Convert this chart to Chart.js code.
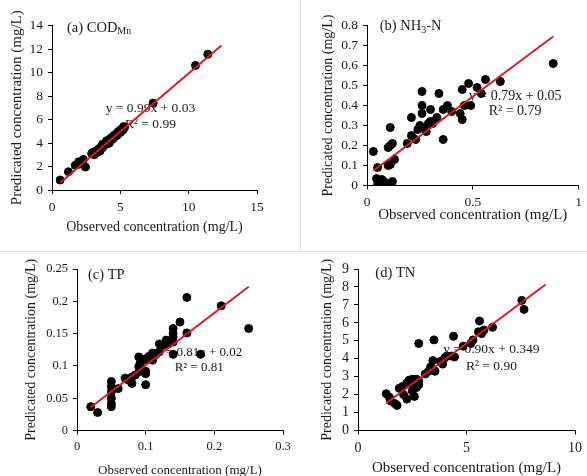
<!DOCTYPE html>
<html>
<head>
<meta charset="utf-8">
<script src="https://cdn.jsdelivr.net/npm/chart.js@4.4.0/dist/chart.umd.min.js"></script>
<style>
  body { margin: 0; background: #fff; width: 587px; height: 476px; position: relative; overflow: hidden; }
  canvas { position: absolute; }
  .sep { position: absolute; background: #e4e4e4; }
</style>
</head>
<body>
<div class="sep" style="left:0;top:251px;width:587px;height:1px"></div>
<div class="sep" style="left:300px;top:0;width:1px;height:251px"></div>
<canvas id="chartA" width="300" height="250" style="left:0;top:0"></canvas>
<canvas id="chartB" width="287" height="250" style="left:300px;top:0"></canvas>
<canvas id="chartC" width="300" height="224" style="left:0;top:252px"></canvas>
<canvas id="chartD" width="287" height="224" style="left:300px;top:252px"></canvas>
<script>
// (a) COD_Mn
const codObs  = [0.6, 1.2, 1.7, 1.95, 2.3, 2.45, 2.0, 2.2, 2.9, 3.0, 3.1, 3.2, 3.3, 3.4, 3.5, 3.6, 3.7, 3.7, 3.8, 3.9, 4.0, 4.0, 4.1, 4.2, 4.2, 4.3, 4.4, 4.5, 4.5, 4.6, 4.7, 4.8, 4.8, 4.9, 5.0, 5.0, 5.1, 5.2, 5.25, 5.3, 7.4, 10.5, 11.4];
const codPred = [0.85, 1.55, 2.1, 2.4, 2.6, 1.95, 2.2, 2.35, 3.1, 3.2, 3.0, 3.3, 3.2, 3.5, 3.3, 3.7, 3.6, 3.9, 3.8, 4.0, 3.9, 4.2, 4.1, 4.0, 4.3, 4.4, 4.3, 4.6, 4.4, 4.7, 4.6, 4.9, 4.7, 5.0, 4.9, 5.1, 5.2, 5.1, 5.4, 5.3, 7.4, 10.6, 11.55];
// (b) NH3-N
const nh3Obs  = [0.03, 0.05, 0.045, 0.07, 0.08, 0.05, 0.1, 0.12, 0.11, 0.10, 0.11, 0.12, 0.10, 0.11, 0.13, 0.21, 0.19, 0.21, 0.23, 0.24, 0.25, 0.27, 0.28, 0.29, 0.30, 0.31, 0.33, 0.26, 0.34, 0.26, 0.26, 0.30, 0.36, 0.36, 0.38, 0.40, 0.44, 0.45, 0.46, 0.45, 0.48, 0.49, 0.52, 0.54, 0.56, 0.63, 0.88];
const nh3Pred = [0.17, 0.09, 0.035, 0.03, 0.02, 0.005, 0.005, 0.02, 0.29, 0.19, 0.20, 0.21, 0.10, 0.105, 0.13, 0.34, 0.21, 0.25, 0.23, 0.28, 0.30, 0.285, 0.27, 0.31, 0.32, 0.31, 0.34, 0.47, 0.46, 0.40, 0.36, 0.38, 0.23, 0.38, 0.40, 0.37, 0.36, 0.33, 0.40, 0.48, 0.51, 0.40, 0.49, 0.46, 0.53, 0.52, 0.61];
// (c) TP
const tpObs  = [0.02, 0.03, 0.05, 0.05, 0.05, 0.05, 0.05, 0.05, 0.06, 0.07, 0.075, 0.08, 0.08, 0.085, 0.09, 0.09, 0.09, 0.092, 0.097, 0.10, 0.10, 0.10, 0.10, 0.105, 0.11, 0.11, 0.115, 0.12, 0.12, 0.125, 0.13, 0.133, 0.14, 0.14, 0.14, 0.14, 0.14, 0.15, 0.16, 0.16, 0.18, 0.21, 0.25];
const tpPred = [0.037, 0.028, 0.076, 0.068, 0.06, 0.05, 0.042, 0.037, 0.065, 0.081, 0.078, 0.073, 0.083, 0.086, 0.091, 0.114, 0.099, 0.104, 0.109, 0.111, 0.071, 0.088, 0.092, 0.115, 0.109, 0.12, 0.119, 0.122, 0.134, 0.132, 0.14, 0.134, 0.158, 0.15, 0.145, 0.137, 0.118, 0.168, 0.206, 0.151, 0.118, 0.193, 0.158];
// (d) TN
const tnObs  = [1.3, 1.45, 1.5, 1.7, 1.8, 1.9, 2.05, 2.1, 2.25, 2.25, 2.35, 2.5, 2.5, 2.55, 2.6, 2.7, 2.7, 2.8, 2.8, 2.8, 3.1, 3.25, 3.35, 3.45, 3.55, 3.5, 3.8, 3.9, 4.0, 4.1, 4.3, 4.4, 4.45, 4.85, 5.2, 5.3, 5.55, 5.6, 5.7, 5.8, 6.2, 7.55, 7.65];
const tnPred = [2.05, 1.85, 1.65, 1.5, 1.4, 2.35, 2.45, 2.0, 2.65, 1.75, 2.8, 2.85, 2.2, 2.45, 1.9, 2.85, 2.4, 2.75, 2.55, 4.85, 3.15, 3.3, 3.55, 3.9, 3.3, 5.05, 3.85, 3.7, 4.05, 4.15, 4.15, 5.25, 4.1, 4.7, 4.85, 5.05, 5.5, 6.1, 5.4, 5.6, 5.75, 7.25, 6.75];

// fitted lines: slope, intercept, x range
const slopes     = [0.99, 0.79, 0.81, 0.90];
const intercepts = [0.03, 0.05, 0.02, 0.349];
const fitStart   = [0.6, 0.03, 0.02, 1.3];
const fitEnd     = [12.4, 0.88, 0.25, 8.65];
const r2Values   = ["0.99", "0.79", "0.81", "0.90"];
const eqTexts    = ["y = 0.99x + 0.03", "y = 0.79x + 0.05", "y = 0.81x + 0.02", "y = 0.90x + 0.349"];

// axis ticks
const xTicksA = [0, 5, 10, 15];          const yTicksA = [0, 2, 4, 6, 8, 10, 12, 14];
const xTicksB = [0, 0.5, 1];             const yTicksB = [0, 0.1, 0.2, 0.3, 0.4, 0.5, 0.6, 0.7, 0.8];
const xTicksC = [0, 0.1, 0.2, 0.3];      const yTicksC = [0, 0.05, 0.1, 0.15, 0.2, 0.25];
const xTicksD = [0, 5, 10];              const yTicksD = [0, 1, 2, 3, 4, 5, 6, 7, 8, 9];

const serif = "'Liberation Serif', 'Times New Roman', serif";
const txt = "#1a1a1a";

const panelText = {
  id: "panelText",
  beforeDatasetsDraw(chart, args, o) {
    const { ctx, scales: { x, y } } = chart;
    ctx.save();
    ctx.fillStyle = txt;
    ctx.textBaseline = "middle";
    // panel label with subscript parts
    let px = x.getPixelForValue(o.labelAt[0]);
    const py = y.getPixelForValue(o.labelAt[1]);
    ctx.textAlign = "left";
    o.label.forEach(part => {
      ctx.font = (part.sub ? 10 : 14.5) + "px " + serif;
      ctx.fillText(part.t, px, part.sub ? py + 4 : py);
      px += ctx.measureText(part.t).width;
    });
    // equation and R²
    ctx.font = o.eqSize + "px " + serif;
    ctx.textAlign = "center";
    const ex = x.getPixelForValue(o.eqAt[0]);
    ctx.fillText(o.eq, ex, y.getPixelForValue(o.eqAt[1]));
    ctx.fillText("R² = " + o.r2, ex, y.getPixelForValue(o.eqAt[2]));
    ctx.restore();
  }
};

function makePanel(id, p) {
  const canvas = document.getElementById(id);
  const W = canvas.width, H = canvas.height;
  const pts = p.obs.map((v, i) => ({ x: v, y: p.pred[i] }));
  const i = p.fit;
  const fit = [fitStart[i], fitEnd[i]].map(v => ({ x: v, y: slopes[i] * v + intercepts[i] }));
  const axisCommon = {
    type: "linear",
    border: { color: "#000", width: 1 },
    grid: { drawOnChartArea: false, color: "#000", tickLength: 4 },
  };
  return new Chart(canvas.getContext("2d"), {
    type: "scatter",
    data: {
      datasets: [
        { data: fit, showLine: true, borderColor: "#e3161b", borderWidth: 2, pointRadius: 0 },
        { data: pts, backgroundColor: "#000", borderColor: "#000", pointRadius: 4, pointHoverRadius: 4 },
      ],
    },
    options: {
      responsive: false,
      animation: false,
      layout: { padding: { left: 0, bottom: 0, top: p.area[1], right: W - p.area[2] } },
      plugins: {
        legend: { display: false },
        tooltip: { enabled: false },
        panelText: { label: p.label, labelAt: p.labelAt, eq: eqTexts[i], r2: r2Values[i], eqAt: p.eqAt, eqSize: p.eqSize },
      },
      scales: {
        x: {
          ...axisCommon,
          min: p.xTicks[0], max: p.xTicks[p.xTicks.length - 1],
          afterBuildTicks: s => { s.ticks = p.xTicks.map(v => ({ value: v })); },
          afterFit: s => { s.height = H - p.area[3]; },
          ticks: { color: txt, font: { family: serif, size: p.tickSize }, padding: 5, maxRotation: 0, autoSkip: false, callback: v => String(v) },
          title: { display: true, text: "Observed concentration (mg/L)", color: txt,
                   font: { family: serif, size: p.xTitleSize }, padding: { top: 0, bottom: H - p.xTitleY - p.xTitleSize * 0.6 } },
        },
        y: {
          ...axisCommon,
          min: p.yTicks[0], max: p.yTicks[p.yTicks.length - 1],
          afterBuildTicks: s => { s.ticks = p.yTicks.map(v => ({ value: v })); },
          afterFit: s => { s.width = p.area[0]; },
          ticks: { color: txt, font: { family: serif, size: p.tickSize }, padding: 5, autoSkip: false, callback: v => String(v) },
          title: { display: true, text: "Predicated concentration (mg/L)", color: txt,
                   font: { family: serif, size: p.yTitleSize }, padding: { top: p.yTitleX - p.yTitleSize * 0.6, bottom: 0 } },
        },
      },
    },
    plugins: [panelText],
  });
}

makePanel("chartA", {
  obs: codObs, pred: codPred, fit: 0, xTicks: xTicksA, yTicks: yTicksA,
  area: [52, 25.5, 257, 190], xTitleY: 227, yTitleX: 17,
  tickSize: 13.5, xTitleSize: 14, yTitleSize: 15, eqSize: 13.5,
  label: [{ t: "(a) COD" }, { t: "Mn", sub: true }], labelAt: [1.1, 13.8], eqAt: [7.2, 6.95, 5.55],
});
makePanel("chartB", {
  obs: nh3Obs, pred: nh3Pred, fit: 1, xTicks: xTicksB, yTicks: yTicksB,
  area: [67, 25.5, 280, 185.5], xTitleY: 215, yTitleX: 28,
  tickSize: 13.5, xTitleSize: 15, yTitleSize: 14, eqSize: 14,
  label: [{ t: "(b) NH" }, { t: "3", sub: true }, { t: "-N" }], labelAt: [0.06, 0.795], eqAt: [0.7, 0.445, 0.37],
});
makePanel("chartC", {
  obs: tpObs, pred: tpPred, fit: 2, xTicks: xTicksC, yTicks: yTicksC,
  area: [77, 17, 283, 178.6], xTitleY: 219, yTitleX: 31,
  tickSize: 12.5, xTitleSize: 13, yTitleSize: 14, eqSize: 13,
  label: [{ t: "(c) TP" }], labelAt: [0.016, 0.24], eqAt: [0.178, 0.12, 0.097],
});
makePanel("chartD", {
  obs: tnObs, pred: tnPred, fit: 3, xTicks: xTicksD, yTicks: yTicksD,
  area: [58, 17, 280, 178.5], xTitleY: 216, yTitleX: 27,
  tickSize: 14, xTitleSize: 15, yTitleSize: 14, eqSize: 13.5,
  label: [{ t: "(d) TN" }], labelAt: [0.8, 8.75], eqAt: [6.15, 4.5, 3.56],
});
</script>
</body>
</html>
